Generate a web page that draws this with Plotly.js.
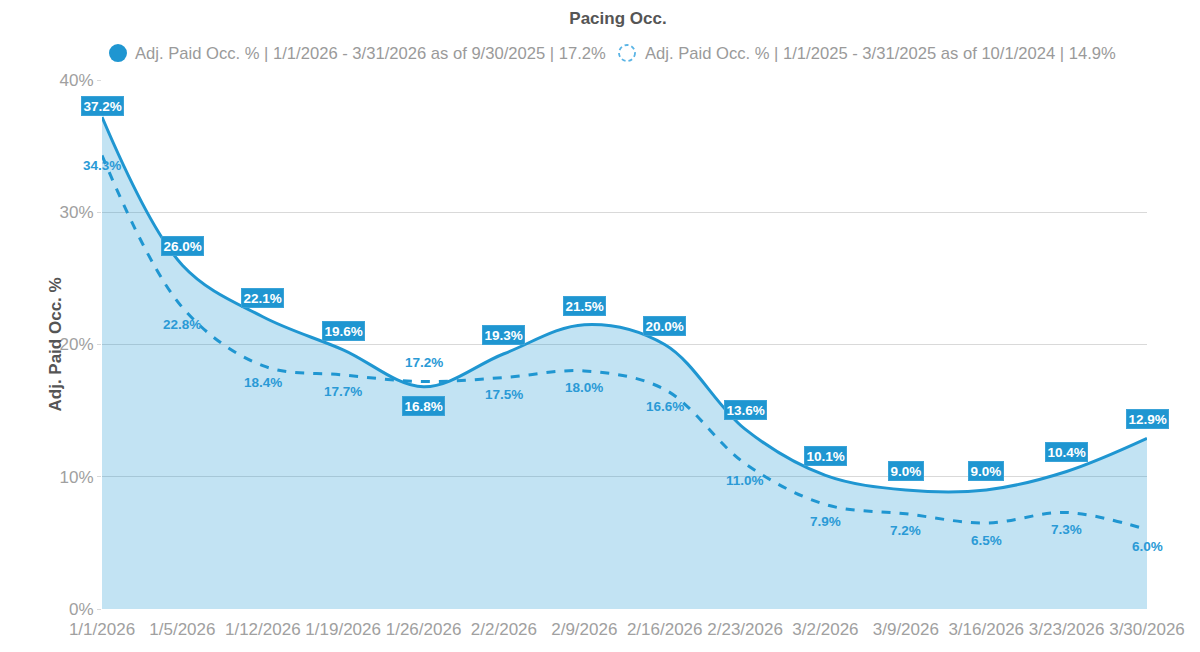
<!DOCTYPE html>
<html>
<head>
<meta charset="utf-8">
<script src="https://cdn.plot.ly/plotly-3.0.1.min.js"></script>
<style>
  html, body { margin: 0; padding: 0; background: #fff; }
  #chart { width: 1200px; height: 652px; }
</style>
</head>
<body>
<div id="chart"></div>
<script>
// week starting dates
const weeks = ['1/1/2026', '1/5/2026', '1/12/2026', '1/19/2026', '1/26/2026', '2/2/2026', '2/9/2026',
  '2/16/2026', '2/23/2026', '3/2/2026', '3/9/2026', '3/16/2026', '3/23/2026', '3/30/2026'];

// current pacing (2026) and last year's pacing (2025)
const occ2026 = [37.2, 26.0, 22.1, 19.6, 16.8, 19.3, 21.5, 20.0, 13.6, 10.1, 9.0, 9.0, 10.4, 12.9];
const occ2025 = [34.3, 22.8, 18.4, 17.7, 17.2, 17.5, 18.0, 16.6, 11.0, 7.9, 7.2, 6.5, 7.3, 6.0];

const name2026 = 'Adj. Paid Occ. % | 1/1/2026 - 3/31/2026 as of 9/30/2025 | 17.2%';
const name2025 = 'Adj. Paid Occ. % | 1/1/2025 - 3/31/2025 as of 10/1/2024 | 14.9%';

const blue = '#1f96d1';
const fnt = 'Liberation Sans, Arial, sans-serif';

const solid = {
  x: weeks,
  y: occ2026,
  type: 'scatter',
  mode: 'lines',
  line: { color: blue, width: 3, shape: 'spline', smoothing: 1 },
  fill: 'tozeroy',
  fillcolor: 'rgba(31,150,209,0.27)',
  showlegend: false,
  hoverinfo: 'skip'
};

const dashed = {
  x: weeks,
  y: occ2025,
  type: 'scatter',
  mode: 'lines',
  line: { color: blue, width: 3, dash: 'dash', shape: 'spline', smoothing: 1 },
  showlegend: false,
  hoverinfo: 'skip'
};

const annotations = [];
occ2026.forEach((v, i) => {
  const below = v < occ2025[i];
  annotations.push({
    x: weeks[i], y: v, xref: 'x', yref: 'y',
    text: '<b>' + v.toFixed(1) + '%</b>',
    showarrow: false,
    yshift: below ? -19 : (i === 0 ? 11 : 19),
    bgcolor: blue,
    bordercolor: '#3aa3d8',
    borderwidth: 1,
    borderpad: 1.5,
    font: { family: fnt, size: 13.5, color: '#ffffff' }
  });
});
occ2025.forEach((v, i) => {
  const above = v > occ2026[i];
  annotations.push({
    x: weeks[i], y: v, xref: 'x', yref: 'y',
    text: '<b>' + v.toFixed(1) + '%</b>',
    showarrow: false,
    yshift: above ? 19 : (i === 0 ? -10 : -17),
    font: { family: fnt, size: 13.5, color: '#2a9ad6' }
  });
});

// legend drawn by hand so the second marker can be a dashed circle
const legY = 1.051;
annotations.push(
  { xref: 'paper', yref: 'paper', x: 0.0297, y: legY, xanchor: 'left', yanchor: 'middle',
    text: name2026, showarrow: false, font: { family: fnt, size: 16.6, color: '#9a9a9a' } },
  { xref: 'paper', yref: 'paper', x: 0.5177, y: legY, xanchor: 'left', yanchor: 'middle',
    text: name2025, showarrow: false, font: { family: fnt, size: 16.6, color: '#9a9a9a' } },
  { xref: 'paper', yref: 'paper', x: 0, y: 0.5, xshift: -47, xanchor: 'center', yanchor: 'middle',
    textangle: -90, text: '<b>Adj. Paid Occ. %</b>', showarrow: false,
    font: { family: fnt, size: 17, color: '#555555' } }
);

const shapes = [
  { type: 'circle', xref: 'paper', yref: 'paper', xsizemode: 'pixel', ysizemode: 'pixel',
    xanchor: 0.0153, yanchor: legY, x0: -9, x1: 9, y0: -9, y1: 9,
    fillcolor: blue, line: { width: 0 } },
  { type: 'circle', xref: 'paper', yref: 'paper', xsizemode: 'pixel', ysizemode: 'pixel',
    xanchor: 0.5024, yanchor: legY, x0: -8, x1: 8, y0: -8, y1: 8,
    fillcolor: 'rgba(0,0,0,0)', line: { color: '#5ab4e5', width: 1.8, dash: '4px,3px' } }
];

const layout = {
  width: 1200,
  height: 652,
  margin: { l: 102, r: 53, t: 80, b: 43 },
  paper_bgcolor: '#ffffff',
  plot_bgcolor: '#ffffff',
  font: { family: fnt, color: '#999999' },
  showlegend: false,
  title: {
    text: '<b>Pacing Occ.</b>',
    font: { family: fnt, size: 17, color: '#555555' },
    x: 0.515, xanchor: 'center', y: 0.972, yanchor: 'middle'
  },
  xaxis: {
    type: 'category',
    range: [0, 13],
    showgrid: false,
    zeroline: false,
    showline: false,
    ticks: '',
    ticklabelstandoff: 8,
    tickfont: { family: fnt, size: 17, color: '#a0a0a0' },
    fixedrange: true
  },
  yaxis: {
    range: [0, 40],
    dtick: 10,
    ticksuffix: '%',
    gridcolor: '#d9d9d9',
    zeroline: false,
    showline: false,
    ticks: 'outside',
    ticklen: 4,
    tickcolor: '#d9d9d9',
    tickfont: { family: fnt, size: 17, color: '#a0a0a0' },
    fixedrange: true
  },
  annotations: annotations,
  shapes: shapes
};

Plotly.newPlot('chart', [solid, dashed], layout, { displayModeBar: false, staticPlot: true });
</script>
</body>
</html>
